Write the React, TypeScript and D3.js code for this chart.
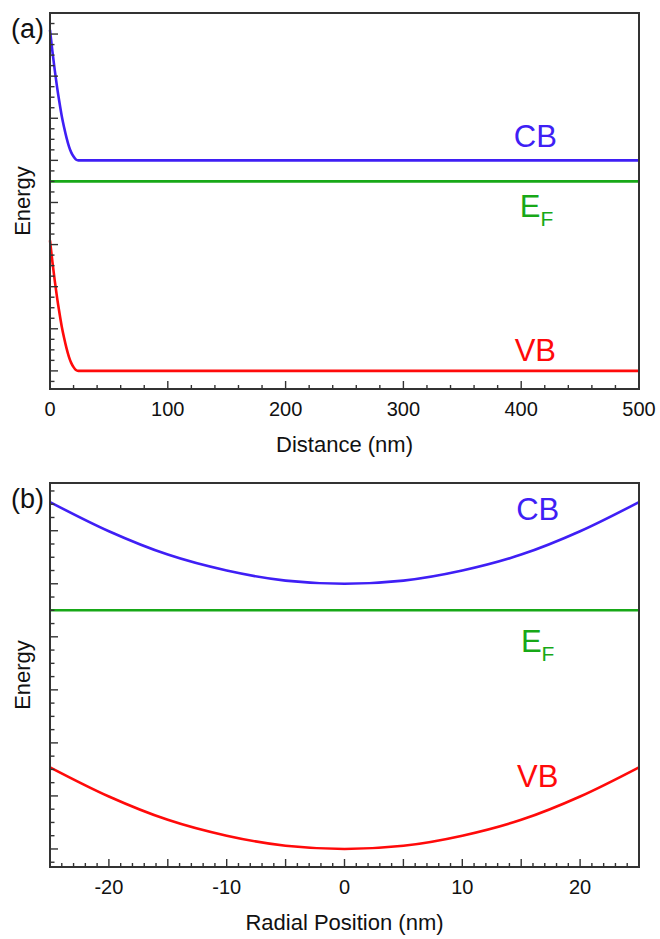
import React from "react";
import * as d3 from "d3";

// Panel (a): band bending vs distance
const distA = [0, 2, 4, 6, 8, 10, 12, 14, 16, 18, 20, 22, 24, 500];
const cbA = [8.1, 7.6, 7.15, 6.74, 6.38, 6.05, 5.78, 5.54, 5.34, 5.19, 5.09, 5.02, 5.0, 5.0];
const vbA = [3.1, 2.6, 2.15, 1.74, 1.38, 1.05, 0.78, 0.54, 0.34, 0.19, 0.09, 0.02, 0.0, 0.0];
const efA = 4.5;
const xTicksA = [0, 100, 200, 300, 400, 500];

// Panel (b): radial band profile
const radB = [-25, -20, -15, -10, -5, 0, 5, 10, 15, 20, 25];
const cbB = [6.54, 5.99, 5.55, 5.25, 5.06, 5.0, 5.06, 5.25, 5.55, 5.99, 6.54];
const vbB = [1.54, 0.99, 0.55, 0.25, 0.06, 0.0, 0.06, 0.25, 0.55, 0.99, 1.54];
const efB = 4.5;
const xTicksB = [-20, -10, 0, 10, 20];

const BLUE = "#3f1ff5";
const RED = "#ff0a0a";
const GREEN = "#17a817";
const AXIS = "#333";
const FONT = "'Liberation Sans', Arial, Helvetica, sans-serif";

type PanelProps = {
  xs: number[];
  cb: number[];
  vb: number[];
  ef: number;
  xDomain: [number, number];
  yDomain: [number, number];
  left: number;
  right: number;
  top: number;
  bottom: number;
  labelTicks: number[];
  majorStep: number;
  minorStep: number;
  xTitle: string;
  panel: string;
  cbLabel: [number, number];
  efLabel: [number, number];
  vbLabel: [number, number];
};

function Panel(p: PanelProps) {
  const x = d3.scaleLinear().domain(p.xDomain).range([p.left, p.right]);
  const y = d3.scaleLinear().domain(p.yDomain).range([p.bottom, p.top]);
  const line = d3
    .line<[number, number]>()
    .x((d) => x(d[0]))
    .y((d) => y(d[1]))
    .curve(d3.curveMonotoneX);
  const cbPts = p.xs.map((v, i) => [v, p.cb[i]] as [number, number]);
  const vbPts = p.xs.map((v, i) => [v, p.vb[i]] as [number, number]);

  const eps = 1e-6;
  const xMinor = d3.range(p.xDomain[0], p.xDomain[1] + eps, p.minorStep);
  const isMajorX = (v: number) => Math.abs(v / p.majorStep - Math.round(v / p.majorStep)) < 1e-6;
  const yStart = Math.ceil(p.yDomain[0] / 0.25) * 0.25;
  const yMinor = d3.range(yStart, p.yDomain[1] + eps, 0.25);
  const isMajorY = (v: number) => Math.abs(v - Math.round(v)) < 1e-6;

  const cx = (p.left + p.right) / 2;
  const cy = (p.top + p.bottom) / 2;

  return (
    <g>
      <path d={line(cbPts) || ""} fill="none" stroke={BLUE} strokeWidth={2.6} />
      <path d={line(vbPts) || ""} fill="none" stroke={RED} strokeWidth={2.6} />
      <line x1={x(p.xDomain[0])} x2={x(p.xDomain[1])} y1={y(p.ef)} y2={y(p.ef)} stroke={GREEN} strokeWidth={2.6} />

      {xMinor.map((v, i) => (
        <line key={"xt" + i} x1={x(v)} x2={x(v)} y1={p.bottom} y2={p.bottom - (isMajorX(v) ? 8 : 4)} stroke={AXIS} strokeWidth={1.4} />
      ))}
      {yMinor.map((v, i) => (
        <line key={"yt" + i} x1={p.left} x2={p.left + (isMajorY(v) ? 8 : 4.5)} y1={y(v)} y2={y(v)} stroke={AXIS} strokeWidth={1.4} />
      ))}
      <rect x={p.left} y={p.top} width={p.right - p.left} height={p.bottom - p.top} fill="none" stroke={AXIS} strokeWidth={2} />

      {p.labelTicks.map((v) => (
        <text key={"xl" + v} x={x(v)} y={p.bottom + 27} textAnchor="middle" fontSize={20} fontFamily={FONT} fill="#111">
          {v}
        </text>
      ))}
      <text x={cx} y={p.bottom + 63} textAnchor="middle" fontSize={22} fontFamily={FONT} fill="#111">
        {p.xTitle}
      </text>
      <text transform={`translate(${p.left - 20},${cy}) rotate(-90)`} textAnchor="middle" fontSize={22} fontFamily={FONT} fill="#111">
        Energy
      </text>
      <text x={p.left - 6} y={p.top + 25} textAnchor="end" fontSize={27} fontFamily={FONT} fill="#111">
        {p.panel}
      </text>

      <text x={x(p.cbLabel[0])} y={y(p.cbLabel[1])} textAnchor="middle" fontSize={31} fontFamily={FONT} fill={BLUE}>
        CB
      </text>
      <text x={x(p.efLabel[0])} y={y(p.efLabel[1])} textAnchor="middle" fontSize={31} fontFamily={FONT} fill={GREEN}>
        E
        <tspan fontSize={21} dy={9}>F</tspan>
      </text>
      <text x={x(p.vbLabel[0])} y={y(p.vbLabel[1])} textAnchor="middle" fontSize={31} fontFamily={FONT} fill={RED}>
        VB
      </text>
    </g>
  );
}

export default function App() {
  return (
    <svg width={660} height={939} style={{ position: "absolute", left: 0, top: 0, background: "#fff" }}>
      <Panel
        xs={distA}
        cb={cbA}
        vb={vbA}
        ef={efA}
        xDomain={[0, 500]}
        yDomain={[-0.43, 8.5]}
        left={50}
        right={639}
        top={13}
        bottom={389}
        labelTicks={xTicksA}
        majorStep={100}
        minorStep={20}
        xTitle="Distance (nm)"
        panel="(a)"
        cbLabel={[412, 5.32]}
        efLabel={[413, 3.66]}
        vbLabel={[412, 0.24]}
      />
      <Panel
        xs={radB}
        cb={cbB}
        vb={vbB}
        ef={efB}
        xDomain={[-25, 25]}
        yDomain={[-0.34, 6.9]}
        left={50}
        right={639}
        top={483}
        bottom={867}
        labelTicks={xTicksB}
        majorStep={5}
        minorStep={1}
        xTitle="Radial Position (nm)"
        panel="(b)"
        cbLabel={[16.4, 6.2]}
        efLabel={[16.4, 3.72]}
        vbLabel={[16.4, 1.17]}
      />
    </svg>
  );
}
